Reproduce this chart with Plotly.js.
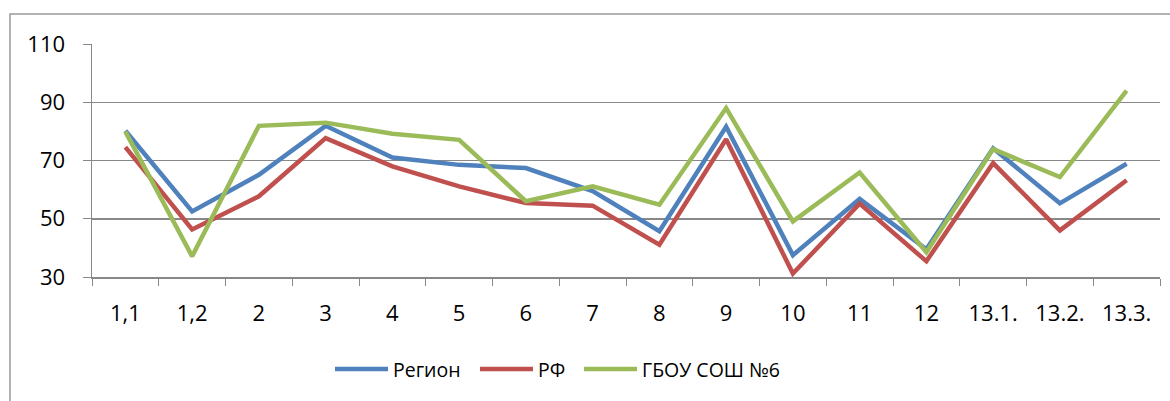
<!DOCTYPE html>
<html><head><meta charset="utf-8">
<script src="https://cdn.plot.ly/plotly-3.0.1.min.js"></script>
<style>html,body{margin:0;padding:0;background:#fff;overflow:hidden}#chart{width:1170px;height:401px}</style>
</head><body><div id="chart"></div>
<script>
const categories = ["1,1","1,2","2","3","4","5","6","7","8","9","10","11","12","13.1.","13.2.","13.3."];
const region = [80.2, 52.5, 65.1, 81.9, 71, 68.5, 67.4, 59.5, 45.7, 81.6, 37.5, 56.8, 39.5, 74.2, 55.3, 68.9];
const rf = [74.6, 46.3, 57.7, 77.7, 68, 61.1, 55.4, 54.5, 41.1, 77.3, 31.2, 55.2, 35.4, 69.1, 46, 63.2];
const school = [79.9, 37.1, 81.9, 83, 79.2, 77.1, 56, 61.1, 54.8, 88, 49.1, 65.9, 38.5, 73.9, 64.3, 94];
const seriesNames = ["Регион", "РФ", "ГБОУ СОШ №6"];
const colors = ["#4F81BD", "#C0504D", "#9BBB59"];
const yTicks = [30, 50, 70, 90, 110];

const legendIds = ["legend", "legend2", "legend3"];
const data = [region, rf, school].map((v, i) => ({
  x: categories, y: v, type: "scatter", mode: "lines", name: seriesNames[i],
  legend: legendIds[i],
  line: {color: colors[i], width: 4.5}
}));
const L = 92, R = 10, T = 44, B = 123.5, W = 1170, H = 401;
const pw = W - L - R, ph = H - T - B;
const legendLeftPx = [330, 475, 579];
const mkLegend = (px) => ({orientation: "h", x: (px - L) / pw, xanchor: "left", y: -0.313, yanchor: "top",
  font: {size: 19.5}, itemwidth: 53, bgcolor: "rgba(0,0,0,0)"});
const layout = {
  width: W, height: H,
  margin: {l: L, r: R, t: T, b: B},
  paper_bgcolor: "#fff", plot_bgcolor: "#fff",
  font: {family: "Open Sans, Liberation Sans, sans-serif", size: 22, color: "#000"},
  showlegend: true,
  legend: mkLegend(legendLeftPx[0]),
  legend2: mkLegend(legendLeftPx[1]),
  legend3: mkLegend(legendLeftPx[2]),
  xaxis: {type: "category", tickson: "boundaries", ticks: "outside", ticklen: 7, tickcolor: "#888",
    showline: true, linecolor: "#888", linewidth: 1.5, showgrid: false, zeroline: false,
    tickfont: {size: 22}, ticklabelstandoff: 16, range: [-0.5, 15.5]},
  yaxis: {range: [30, 110], tickvals: yTicks, ticks: "outside", ticklen: 8, tickcolor: "#888",
    showline: true, linecolor: "#888", linewidth: 1.5, showgrid: true, gridcolor: "#888", gridwidth: 1.5,
    zeroline: false, tickfont: {size: 22}, ticklabelstandoff: 13},
  shapes: [{type: "rect", xref: "paper", yref: "paper",
    x0: (10 - L) / pw, x1: (W + 5 - L) / pw, y0: -(H + 5 - T - ph) / ph, y1: 1 + (T - 14) / ph,
    line: {color: "#999", width: 1.5}, fillcolor: "rgba(0,0,0,0)", layer: "below"}]
};
Plotly.newPlot("chart", data, layout, {staticPlot: true, displayModeBar: false});
</script></body></html>
